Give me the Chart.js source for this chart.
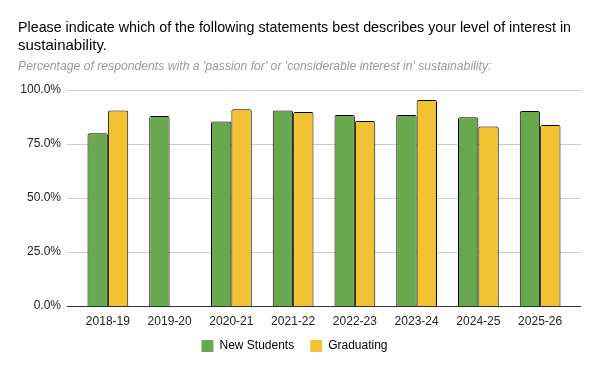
<!DOCTYPE html>
<html>
<head>
<meta charset="utf-8">
<script src="https://cdn.jsdelivr.net/npm/chart.js@4"></script>
<style>
  html, body { margin: 0; padding: 0; background: #fff; }
  #wrap { width: 600px; height: 371px; position: relative; }
</style>
</head>
<body>
<div id="wrap"><canvas id="chart"></canvas></div>
<script>
// Survey: share of respondents with strong interest in sustainability
const years = ['2018-19', '2019-20', '2020-21', '2021-22', '2022-23', '2023-24', '2024-25', '2025-26'];
const newStudents = [0.799, 0.878, 0.853, 0.904, 0.883, 0.883, 0.872, 0.901];
const graduating = [0.904, null, 0.909, 0.897, 0.855, 0.952, 0.830, 0.836];
const yTicks = [0, 0.25, 0.5, 0.75, 1];

const GREEN = '#6aa84f';
const YELLOW = '#f1c232';
const FONT = "Arial, 'Liberation Sans', sans-serif";

// gridlines in the reference run a bit past the outer bars
const wideGrid = {
  id: 'wideGrid',
  beforeDatasetsDraw(chart){
    const { ctx, chartArea } = chart;
    const y = chart.scales.y;
    const l = chartArea.left - 10, r = chartArea.right + 10;
    ctx.save();
    ctx.lineWidth = 1;
    yTicks.forEach(v => {
      const py = Math.round(y.getPixelForValue(v)) + 0.5;
      ctx.strokeStyle = v === 0 ? '#333' : '#ccc';
      ctx.beginPath();
      ctx.moveTo(l, py);
      ctx.lineTo(r, py);
      ctx.stroke();
    });
    ctx.restore();
  }
};

const barStyle = {
  borderColor: '#000',
  borderWidth: 1,
  borderRadius: { topLeft: 2, topRight: 2 },
  borderSkipped: 'bottom',
  categoryPercentage: 0.66,
  barPercentage: 1.0
};

new Chart(document.getElementById('chart'), {
  type: 'bar',
  data: {
    labels: years,
    datasets: [
      Object.assign({ label: 'New Students', data: newStudents, backgroundColor: GREEN }, barStyle),
      Object.assign({ label: 'Graduating', data: graduating, backgroundColor: YELLOW }, barStyle)
    ]
  },
  options: {
    responsive: true,
    maintainAspectRatio: false,
    animation: false,
    layout: { padding: { left: 18, right: 29, top: 19, bottom: 9 } },
    scales: {
      x: {
        // squeeze the axis box so the legend sits close; let labels spill out of it
        afterFit(scale){ scale.height = 18; },
        afterUpdate(scale){ scale._computeLabelArea = () => undefined; },
        grid: { display: false, drawTicks: false },
        border: { display: false },
        ticks: { color: '#222', font: { family: FONT, size: 12 }, padding: 8, maxRotation: 0 }
      },
      y: {
        min: 0,
        max: 1,
        afterFit(scale){ scale.width = 59; },
        afterBuildTicks(scale){ scale.ticks = yTicks.map(v => ({ value: v })); },
        grid: { display: false, drawTicks: false },
        border: { display: false },
        ticks: {
          color: '#222',
          font: { family: FONT, size: 12 },
          padding: 16,
          callback: v => (v * 100).toFixed(1) + '%'
        }
      }
    },
    plugins: {
      title: {
        display: true,
        align: 'start',
        text: ['Please indicate which of the following statements best describes your level of interest in', 'sustainability.'],
        color: '#000',
        font: { family: FONT, size: 15, weight: 'normal', lineHeight: 1.2 },
        padding: { top: 0, bottom: 4 }
      },
      subtitle: {
        display: true,
        align: 'start',
        text: "Percentage of respondents with a 'passion for' or 'considerable interest in' sustainability:",
        color: '#999',
        font: { family: FONT, size: 12.2, style: 'italic' },
        padding: { top: 0, bottom: 16 }
      },
      legend: {
        position: 'bottom',
        labels: {
          color: '#222',
          font: { family: FONT, size: 12 },
          boxWidth: 12,
          boxHeight: 12,
          padding: 16,
          useBorderRadius: true,
          borderRadius: 1,
          generateLabels(chart){
            return chart.data.datasets.map((ds, i) => ({
              text: ds.label,
              fillStyle: ds.backgroundColor,
              strokeStyle: ds.backgroundColor,
              lineWidth: 0,
              datasetIndex: i,
              borderRadius: 1
            }));
          }
        }
      },
      tooltip: { enabled: false }
    }
  },
  plugins: [wideGrid]
});
</script>
</body>
</html>
